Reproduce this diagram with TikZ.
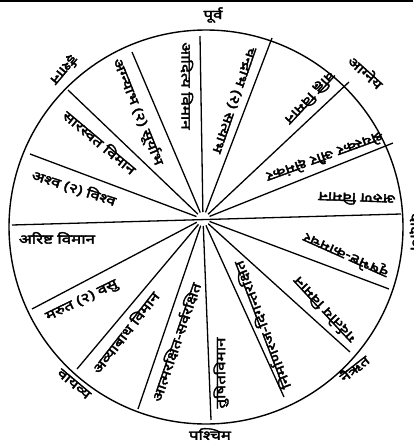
\documentclass[tikz,border=0pt]{standalone}
\usepackage{fontspec}
\newfontfamily\dev[Script=Devanagari, FakeStretch=1.3, FakeBold=3]{Noto Sans}
\begin{document}
\begin{tikzpicture}[x=1pt,y=-1pt,
  rim/.style={line width=1.4pt},
  spoke/.style={line width=1.3pt, shorten <=7pt},
  lbl/.style={font=\dev\fontsize{13}{14}\selectfont, inner sep=0pt},
  dir/.style={font=\dev\fontsize{13}{14}\selectfont, inner sep=0pt}]
\useasboundingbox (0,0) rectangle (413,444);
\draw[line width=1.3pt] (0,1) -- (413,1);
% circle
\coordinate (c) at (206,227);
\draw[rim] (c) circle (197);
% hub and spoke ends
\coordinate (hub) at (203,219);
\coordinate (e1) at (200,36);
\coordinate (e2) at (272,38);
\coordinate (e3) at (349,82);
\coordinate (e4) at (393,143);
\coordinate (e5) at (401,214);
\coordinate (e6) at (389,289);
\coordinate (e7) at (350,352);
\coordinate (e8) at (284,397);
\coordinate (e9) at (211,420);
\coordinate (e10) at (138,409);
\coordinate (e11) at (77,369);
\coordinate (e12) at (32,309);
\coordinate (e13) at (12,225);
\coordinate (e14) at (30,154);
\coordinate (e15) at (68,90);
\coordinate (e16) at (132,52);
\draw[line width=1.3pt] (e13) -- (e5);
\foreach \i in {1,2,3,4,6,7,8,9,10,11,12,14,15,16}
  \draw[spoke] (hub) -- (e\i);
% sector labels
\node[lbl, rotate=-90]  (l1)  at (187,86)  {आदित्य विमान};
\node[lbl, rotate=-109] (l2)  at (234,100) {चन्द्राभ (२) सत्याभ};
\node[lbl, rotate=-133] (l3)  at (310,98)  {वह्नि विमान};
\node[lbl, rotate=-160] (l4)  at (325,157) {श्रेयस्कर और क्षेमंकर};
\node[lbl, rotate=178]  (l5)  at (357,199) {अरुण विमान};
\node[lbl, rotate=156]  (l6)  at (346,255) {वृषभेष्ट-कामचर};
\node[lbl, rotate=133]  (l7)  at (324,310) {गर्दतोय विमान};
\node[lbl, rotate=111]  (l8)  at (262,325) {निर्माणरज-दिगन्तरक्षित};
\node[lbl, rotate=90]   (l9)  at (221,373) {तुषितविमान};
\node[lbl, rotate=71]   (l10) at (176,342) {आत्मरक्षित-सर्वरक्षित};
\node[lbl, rotate=52]   (l11) at (125,332) {अव्याबाध विमान};
\node[lbl, rotate=26]   (l12) at (82,301)  {मरुत (२) वसु};
\node[lbl, rotate=0]    (l13) at (57,238)  {अरिष्ट विमान};
\node[lbl, rotate=-18]  (l14) at (74,188)  {अश्व (२) विश्व};
\node[lbl, rotate=-40]  (l15) at (100,142) {सारस्वत विमान};
\node[lbl, rotate=-68]  (l16) at (138,112) {अग्न्याभ (२) सूर्याभ};
% directions
\node[dir] (d1) at (213,15) {पूर्व};
\node[dir, rotate=-42] (d2) at (366,72) {आग्नेय};
\node[dir, rotate=-90] (d3) at (416,232) {दक्षिण};
\node[dir, rotate=38] (d4) at (354,368) {नैऋत};
\node[dir] (d5) at (210,434) {पश्चिम};
\node[dir, rotate=-40] (d6) at (74,384) {वायव्य};
\node[dir, rotate=-130] (d8) at (64,70) {ईशान};
\end{tikzpicture}
\end{document}
